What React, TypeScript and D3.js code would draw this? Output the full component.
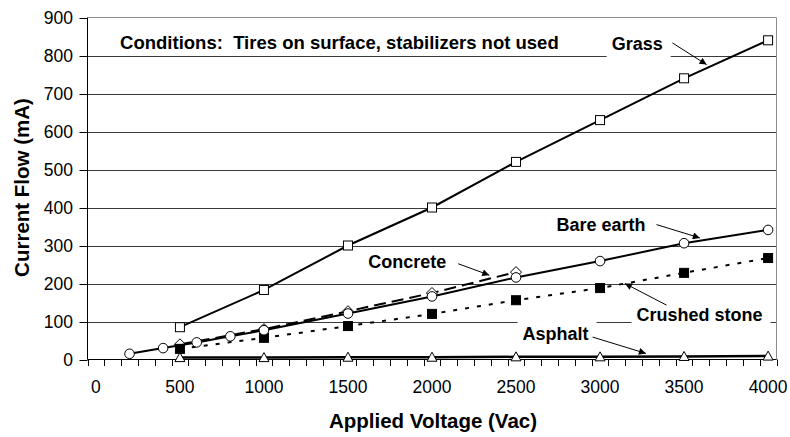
import React, { useEffect, useRef } from 'react';
import * as d3 from 'd3';

// ---- data ----
const voltages = [500, 1000, 1500, 2000, 2500, 3000, 3500, 4000];
const grassValues = [85, 183, 300, 400, 520, 630, 740, 840];
const bareEarthVoltages = [200, 400, 600, 800, 1000, 1500, 2000, 2500, 3000, 3500, 4000];
const bareEarthValues = [15, 30, 45, 61, 77, 121, 166, 216, 259, 306, 341];
const concreteVoltages = [500, 1000, 1500, 2000, 2500];
const concreteValues = [40, 80, 127, 175, 230];
const crushedStoneValues = [28, 57, 88, 120, 156, 188, 228, 267];
const asphaltValues = [5, 5, 6, 6, 7, 7, 8, 9];

const yTickValues = [0, 100, 200, 300, 400, 500, 600, 700, 800, 900];
const xTickLabels = [0, 500, 1000, 1500, 2000, 2500, 3000, 3500, 4000];

const xTitle = 'Applied Voltage (Vac)';
const yTitle = 'Current Flow (mA)';
const conditionsText = 'Conditions:  Tires on surface, stabilizers not used';

// annotation labels (text anchor in data units, arrow from/to in data units)
const annotationLabels = ['Grass', 'Bare earth', 'Concrete', 'Crushed stone', 'Asphalt'];
const annotationTextPos = [[3069, 832], [2741, 356], [1621, 257], [3217, 118], [2539, 69]];
const annotationArrowFrom = [[3431, 833], [3336, 355], [2156, 252], [3396, 143], [2956, 59]];
const annotationArrowTo = [[3634, 776], [3594, 320], [2341, 222], [3148, 200], [3273, 16]];
const annotationBoxed = [true, false, false, true, true];

const FONT = '"Liberation Sans", Arial, Helvetica, sans-serif';

export default function App() {
  const ref = useRef<SVGSVGElement | null>(null);

  useEffect(() => {
    const svg = d3.select(ref.current);
    svg.selectAll('*').remove();

    const left = 87.5, right = 776.5, top = 17.5, bottom = 359.5;
    const x = d3.scaleLinear().domain([-50, 4050]).range([left, right]);
    const y = d3.scaleLinear().domain([0, 900]).range([bottom, top]);

    const defs = svg.append('defs');
    defs.append('marker')
      .attr('id', 'arrowhead')
      .attr('viewBox', '0 0 10 10')
      .attr('refX', 10).attr('refY', 5)
      .attr('markerWidth', 9).attr('markerHeight', 7)
      .attr('markerUnits', 'userSpaceOnUse')
      .attr('orient', 'auto')
      .append('path').attr('d', 'M0,0 L10,5 L0,10 Z').attr('fill', '#000');

    // gridlines
    const g = svg.append('g');
    g.selectAll('line.grid')
      .data(yTickValues.filter(v => v > 0 && v < 900))
      .join('line')
      .attr('x1', left).attr('x2', right)
      .attr('y1', d => Math.round(y(d)) + 0.5).attr('y2', d => Math.round(y(d)) + 0.5)
      .attr('stroke', '#3a3a3a').attr('stroke-width', 1);

    // plot border (top & right)
    g.append('path')
      .attr('d', `M${left},${top} H${right} V${bottom}`)
      .attr('fill', 'none').attr('stroke', '#8c8c8c').attr('stroke-width', 1);

    // axes
    g.append('line').attr('x1', left).attr('x2', left).attr('y1', top).attr('y2', bottom).attr('stroke', '#000');
    g.append('line').attr('x1', left).attr('x2', right).attr('y1', bottom).attr('y2', bottom).attr('stroke', '#000');

    // y ticks + labels
    g.selectAll('line.ytick').data(yTickValues).join('line')
      .attr('x1', left - 8).attr('x2', left)
      .attr('y1', d => Math.round(y(d)) + 0.5).attr('y2', d => Math.round(y(d)) + 0.5)
      .attr('stroke', '#000');
    g.selectAll('text.ylab').data(yTickValues).join('text')
      .attr('x', 73).attr('y', d => y(d) + 6)
      .attr('text-anchor', 'end')
      .attr('font-family', FONT).attr('font-size', 17.5).attr('fill', '#000')
      .text(d => String(d));

    // x ticks every 100 from -50
    const minorTicks = d3.range(-50, 4051, 100);
    g.selectAll('line.xtick').data(minorTicks).join('line')
      .attr('x1', d => Math.round(x(d)) + 0.5).attr('x2', d => Math.round(x(d)) + 0.5)
      .attr('y1', bottom).attr('y2', bottom + 6.5)
      .attr('stroke', '#000');
    g.selectAll('text.xlab').data(xTickLabels).join('text')
      .attr('x', d => x(d)).attr('y', 393)
      .attr('text-anchor', 'middle')
      .attr('font-family', FONT).attr('font-size', 17.5).attr('fill', '#000')
      .text(d => String(d));

    // titles
    svg.append('text')
      .attr('x', 433).attr('y', 428)
      .attr('text-anchor', 'middle')
      .attr('font-family', FONT).attr('font-size', 20.5).attr('font-weight', 'bold')
      .text(xTitle);
    svg.append('text')
      .attr('transform', 'translate(28.5,187.5) rotate(-90)')
      .attr('text-anchor', 'middle')
      .attr('font-family', FONT).attr('font-size', 20.5).attr('font-weight', 'bold')
      .text(yTitle);

    // conditions text
    svg.append('text')
      .attr('x', x(144)).attr('y', y(833) + 6.5)
      .attr('font-family', FONT).attr('font-size', 18.5).attr('font-weight', 'bold')
      .style('white-space', 'pre')
      .text(conditionsText);

    // annotations
    const ann = svg.append('g');
    annotationLabels.forEach((label, i) => {
      const [tx, ty] = annotationTextPos[i];
      const px = x(tx), py = y(ty);
      const grp = ann.append('g');
      const rect = grp.append('rect').attr('fill', '#fff');
      const t = grp.append('text')
        .attr('x', px).attr('y', py + 6.5)
        .attr('font-family', FONT).attr('font-size', 18).attr('font-weight', 'bold')
        .text(label);
      if (annotationBoxed[i]) {
        const w = (t.node() as SVGTextElement).getComputedTextLength();
        rect.attr('x', px - 5).attr('y', py - 14).attr('width', w + 13).attr('height', 28);
      } else {
        rect.remove();
      }
      const [fx, fy] = annotationArrowFrom[i];
      const [ex, ey] = annotationArrowTo[i];
      grp.append('line')
        .attr('x1', x(fx)).attr('y1', y(fy))
        .attr('x2', x(ex)).attr('y2', y(ey))
        .attr('stroke', '#000').attr('stroke-width', 1)
        .attr('marker-end', 'url(#arrowhead)');
    });

    const line = d3.line<[number, number]>().x(d => x(d[0])).y(d => y(d[1]));
    const series = svg.append('g');

    const drawMarker = (sel: any, shape: string, cx: number, cy: number) => {
      const s = 4.5;
      if (shape === 'square' || shape === 'filledSquare') {
        sel.append('rect').attr('x', cx - s).attr('y', cy - s).attr('width', 2 * s).attr('height', 2 * s)
          .attr('fill', shape === 'square' ? '#fff' : '#000').attr('stroke', '#000').attr('stroke-width', 1);
      } else if (shape === 'circle') {
        sel.append('circle').attr('cx', cx).attr('cy', cy).attr('r', 4.8)
          .attr('fill', '#fff').attr('stroke', '#000').attr('stroke-width', 1);
      } else if (shape === 'diamond') {
        const r = 5.5;
        sel.append('path').attr('d', `M${cx},${cy - r} L${cx + r},${cy} L${cx},${cy + r} L${cx - r},${cy} Z`)
          .attr('fill', '#fff').attr('stroke', '#000').attr('stroke-width', 1);
      } else if (shape === 'triangle') {
        const r = 5;
        sel.append('path').attr('d', `M${cx},${cy - r} L${cx + r},${cy + r * 0.8} L${cx - r},${cy + r * 0.8} Z`)
          .attr('fill', '#fff').attr('stroke', '#000').attr('stroke-width', 1);
      }
    };

    const seriesList: { xs: number[]; ys: number[]; dash: string | null; width: number; shape: string }[] = [
      { xs: concreteVoltages, ys: concreteValues, dash: '12,6', width: 2, shape: 'diamond' },
      { xs: voltages, ys: crushedStoneValues, dash: '4,8', width: 2, shape: 'filledSquare' },
      { xs: bareEarthVoltages, ys: bareEarthValues, dash: null, width: 2, shape: 'circle' },
      { xs: voltages, ys: grassValues, dash: null, width: 2, shape: 'square' },
      { xs: voltages, ys: asphaltValues, dash: null, width: 2.5, shape: 'triangle' },
    ];

    seriesList.forEach(s => {
      const pts: [number, number][] = s.xs.map((v, i) => [v, s.ys[i]]);
      const sg = series.append('g');
      const p = sg.append('path').attr('d', line(pts))
        .attr('fill', 'none').attr('stroke', '#000').attr('stroke-width', s.width);
      if (s.dash) p.attr('stroke-dasharray', s.dash);
      pts.forEach(pt => drawMarker(sg, s.shape, x(pt[0]), y(pt[1])));
    });
  }, []);

  return (
    <svg
      ref={ref}
      width={790}
      height={437}
      style={{ position: 'absolute', left: 0, top: 0, background: '#fff' }}
    />
  );
}
